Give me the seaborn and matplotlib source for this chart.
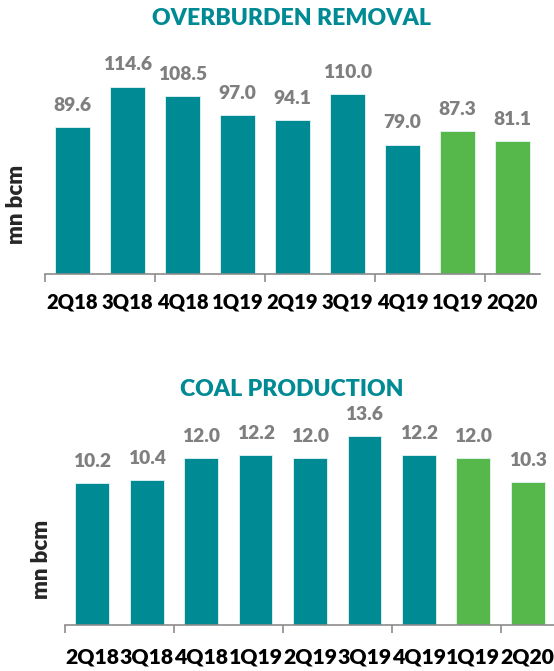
import numpy as np
import pandas as pd
import matplotlib
matplotlib.use("Agg")
import matplotlib.pyplot as plt
import seaborn as sns

# Data
quarters = ["2Q18", "3Q18", "4Q18", "1Q19", "2Q19", "3Q19", "4Q19", "1Q19", "2Q20"]
overburden = [89.6, 114.6, 108.5, 97.0, 94.1, 110.0, 79.0, 87.3, 81.1]
coal = [10.2, 10.4, 12.0, 12.2, 12.0, 13.6, 12.2, 12.0, 10.3]
is_2020 = [False, False, False, False, False, False, False, True, True]

TEAL = "#008a94"
GREEN = "#56b84b"
GREY = "#7f7f7f"
W = "heavy"

sns.set_style("white")
plt.rcParams["font.family"] = ["Lato", "DejaVu Sans"]

colors = [GREEN if g else TEAL for g in is_2020]


def draw(ax, values, ymax, tick_size, tick_pad):
    df = pd.DataFrame({"pos": np.arange(len(values)), "value": values})
    sns.barplot(data=df, x="pos", y="value", hue="pos", palette=colors,
                legend=False, width=0.62, saturation=1,
                edgecolor="#e6f4f4", linewidth=0.6, ax=ax)
    for cont in ax.containers:
        ax.bar_label(cont, fmt="%.1f", padding=9.5, color=GREY,
                     fontsize=13.8, fontweight=W, clip_on=False)
    ax.set_xlim(-0.5, len(values) - 0.5)
    ax.set_ylim(0, ymax)
    ax.set_xticks(np.arange(len(values)))
    ax.set_xticklabels(quarters, fontsize=tick_size, fontweight=W,
                       color="black")
    ax.set_xticks(np.arange(-0.5, len(values) - 1, 2), minor=True)
    ax.tick_params(axis="x", which="major", length=0, pad=tick_pad)
    ax.tick_params(axis="x", which="minor", length=6, width=1.2,
                   color="#8c8c8c", bottom=True, direction="out")
    ax.set_yticks([])
    ax.set_xlabel("")
    ax.set_ylabel("")
    sns.despine(ax=ax, left=True)
    ax.spines["bottom"].set_color("#8c8c8c")
    ax.spines["bottom"].set_linewidth(1.2)


fig = plt.figure(figsize=(5.54, 6.71), dpi=100)

ax1 = fig.add_axes([0.0812, 0.5921, 0.8935, 0.2921])
draw(ax1, overburden, 120, 14.5, 13.5)

ax2 = fig.add_axes([0.1173, 0.0686, 0.8845, 0.290])
draw(ax2, coal, 14, 15.2, 16)

fig.text(0.527, 0.972, "OVERBURDEN REMOVAL", color=TEAL, fontsize=16.6,
         fontweight=W, ha="center", va="center")
fig.text(0.527, 0.419, "COAL PRODUCTION", color=TEAL, fontsize=16.6,
         fontweight=W, ha="center", va="center")
fig.text(0.0289, 0.696, "mn bcm", rotation=90, fontsize=16,
         fontweight=W, ha="center", va="center")
fig.text(0.0758, 0.167, "mn bcm", rotation=90, fontsize=16,
         fontweight=W, ha="center", va="center")

fig.savefig("out.png", dpi=100)
